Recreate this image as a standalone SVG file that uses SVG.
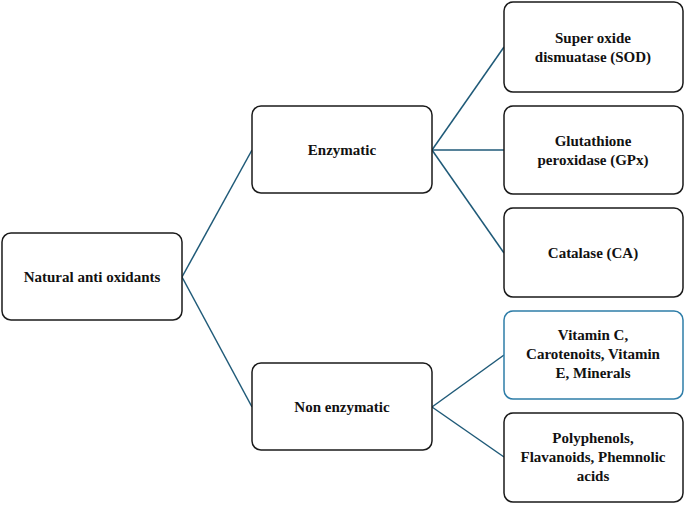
<svg xmlns="http://www.w3.org/2000/svg" width="685" height="505" viewBox="0 0 685 505">
<style>
.n{fill:#fff;stroke:#1a1a1a;stroke-width:1.5}
.b{fill:#fff;stroke:#2e7da8;stroke-width:1.5}
text{font-family:"Liberation Serif",serif;font-weight:bold;font-size:15px;fill:#111;text-anchor:middle}
.c line{stroke:#1f5a78;stroke-width:1.5}
</style>
<rect width="685" height="505" fill="#fff"/>
<g class="c">
<line x1="182" y1="277" x2="252" y2="150"/>
<line x1="182" y1="277" x2="252" y2="407"/>
<line x1="432" y1="150" x2="504" y2="47"/>
<line x1="432" y1="150" x2="504" y2="150"/>
<line x1="432" y1="150" x2="504" y2="253"/>
<line x1="432" y1="407" x2="504" y2="355"/>
<line x1="432" y1="407" x2="504" y2="457"/>
</g>
<g id="root"><rect class="n" x="2" y="233" width="180" height="87" rx="9"/><text x="92" y="282">Natural anti oxidants</text></g>
<g id="enz"><rect class="n" x="252" y="106" width="180" height="87" rx="9"/><text x="342" y="155">Enzymatic</text></g>
<g id="nonenz"><rect class="n" x="252" y="363" width="180" height="87" rx="9"/><text x="342" y="412">Non enzymatic</text></g>
<g id="sod"><rect class="n" x="504" y="2" width="179" height="90" rx="9"/><text x="593" y="43">Super oxide</text><text x="593" y="62">dismuatase (SOD)</text></g>
<g id="gpx"><rect class="n" x="504" y="106" width="179" height="88" rx="9"/><text x="593" y="146">Glutathione</text><text x="593" y="165">peroxidase (GPx)</text></g>
<g id="cat"><rect class="n" x="504" y="208" width="179" height="89" rx="9"/><text x="593" y="258">Catalase (CA)</text></g>
<g id="vit"><rect class="b" x="504" y="311" width="179" height="88" rx="9"/><text x="593" y="340">Vitamin C,</text><text x="593" y="359">Carotenoits, Vitamin</text><text x="593" y="378">E, Minerals</text></g>
<g id="poly"><rect class="n" x="504" y="413" width="179" height="89" rx="9"/><text x="593" y="443">Polyphenols,</text><text x="593" y="462">Flavanoids, Phemnolic</text><text x="593" y="481">acids</text></g>
</svg>
